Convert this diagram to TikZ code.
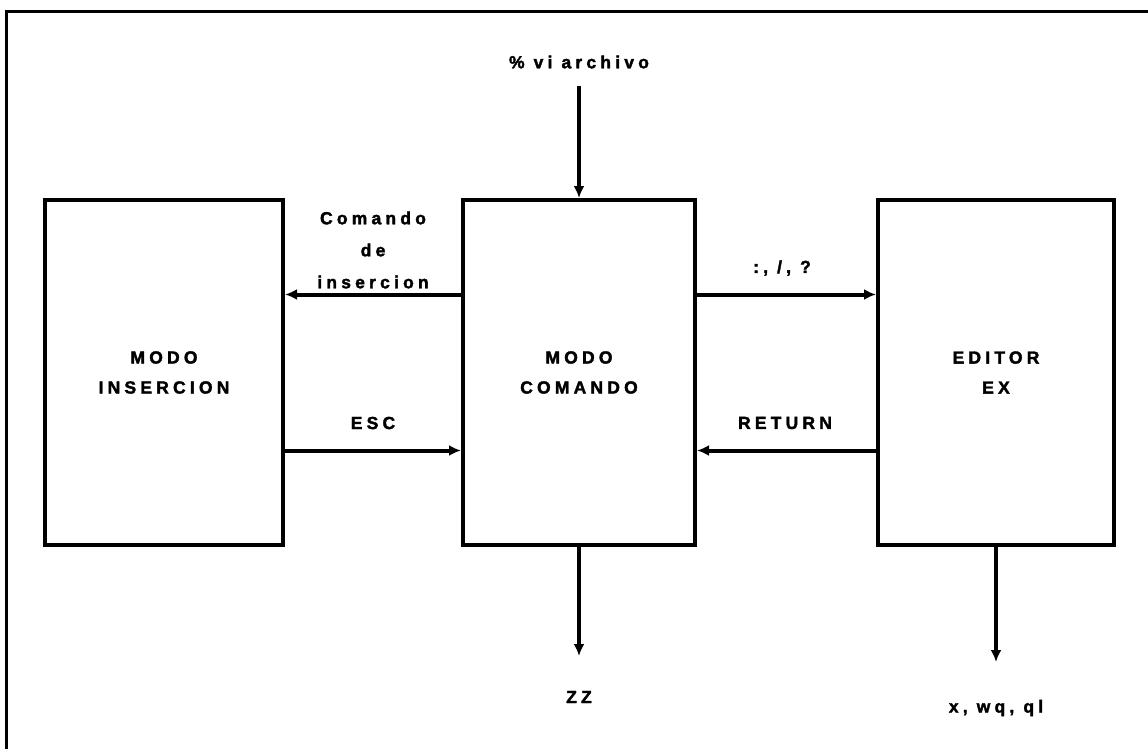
\documentclass[tikz,border=0pt]{standalone}
\usepackage{fontspec}
\setmainfont{Liberation Sans}[LetterSpace=24,BoldFeatures={FakeBold=2}]
\usepackage{tikz}
\usetikzlibrary{arrows.meta,positioning,calc}

\begin{document}
\begin{tikzpicture}[x=1pt,y=-1pt,
    modo/.style    = {draw,line width=4pt,minimum height=345pt,inner sep=0pt,
                      align=center,font=\fontsize{17.5}{30}\selectfont\bfseries},
    flujo/.style   = {line width=4pt,-{Latex[length=12pt,width=11pt]}},
    rotulo/.style  = {font=\fontsize{17.5}{32}\selectfont\bfseries,align=center},
  ]
  \useasboundingbox (0,0) rectangle (1148,749);

  % Marco de la figura
  \draw[line width=3pt] (1148,12) -- (6,12) -- (6,749);

  % Bloques de modo
  \node[modo,minimum width=238pt] (insercion) at (164,372.5) {MODO\\INSERCION};
  \node[modo,minimum width=232pt] (comando)   at (579,372.5) {MODO\\COMANDO};
  \node[modo,minimum width=236pt] (editor)    at (996,372.5) {EDITOR\\EX};

  % Entrada y salidas
  \coordinate (inicio) at (579,86);
  \coordinate (finzz)  at (579,656);
  \coordinate (finex)  at (996,662);
  \node[rotulo] (vi)  at (579,62)  {\% vi archivo};
  \node[rotulo] (zz)  at (579,697) {ZZ};
  \node[rotulo] (sal) at (996,708) {x, wq, ql};
  \draw[flujo] (inicio) -- (comando.north);
  \draw[flujo] (comando.south) -- (finzz);
  \draw[flujo] (editor.south) -- (finex);

  % Transiciones entre modos
  \draw[flujo] ([yshift=78pt]comando.west) -- ([yshift=78pt]insercion.east);
  \draw[flujo] ([yshift=-78pt]insercion.east) -- ([yshift=-78pt]comando.west);
  \draw[flujo] ([yshift=78pt]comando.east) -- ([yshift=78pt]editor.west);
  \draw[flujo] ([yshift=-78pt]editor.west) -- ([yshift=-78pt]comando.east);

  \node[rotulo] (ins) at (373,250) {Comando\\de\\insercion};
  \node[rotulo] (ex)  at (782,268) {:, /, ?};
  \node[rotulo] (esc) at (373,423) {ESC};
  \node[rotulo] (ret) at (785,423) {RETURN};

\end{tikzpicture}
\end{document}
